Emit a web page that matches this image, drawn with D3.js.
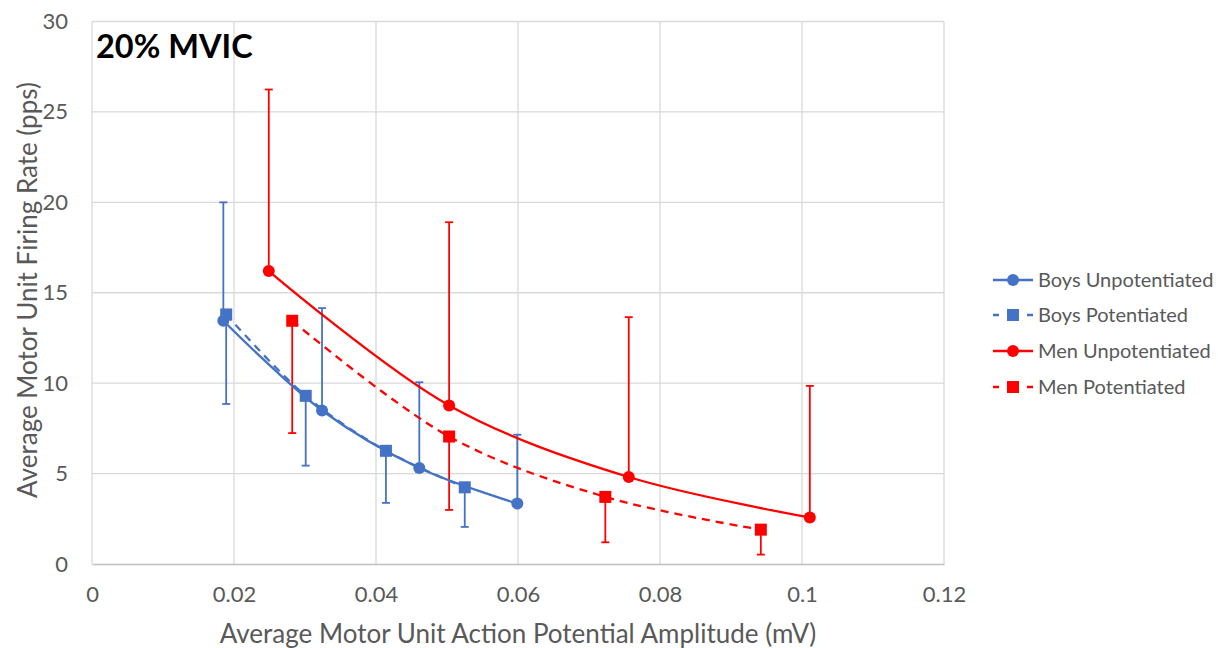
<!DOCTYPE html>
<html>
<head>
<meta charset="utf-8">
<script src="https://cdn.jsdelivr.net/npm/d3@7"></script>
<style>
  html, body { margin: 0; padding: 0; background: #ffffff; }
  svg { display: block; font-family: Lato, "Open Sans", "Liberation Sans", sans-serif; }
</style>
</head>
<body>
<svg id="chart" width="1218" height="648"></svg>
<script>
// Motor unit firing rate vs. action potential amplitude, 20% MVIC
const xTicks = [0, 0.02, 0.04, 0.06, 0.08, 0.1, 0.12];
const yTicks = [0, 5, 10, 15, 20, 25, 30];

const boysUnpotX   = [0.0185, 0.0324, 0.0461, 0.0599];
const boysUnpotY   = [13.45, 8.49, 5.31, 3.34];
const boysUnpotErr = [20.0, 14.15, 10.05, 7.15];   // upper bar ends

const boysPotX   = [0.0189, 0.0301, 0.0414, 0.0525];
const boysPotY   = [13.8, 9.3, 6.26, 4.24];
const boysPotErr = [8.85, 5.44, 3.38, 2.05];       // lower bar ends

const menUnpotX   = [0.0249, 0.0503, 0.0756, 0.1011];
const menUnpotY   = [16.2, 8.77, 4.81, 2.57];
const menUnpotErr = [26.24, 18.9, 13.65, 9.85];     // upper bar ends

const menPotX   = [0.0282, 0.0503, 0.0723, 0.0942];
const menPotY   = [13.45, 7.05, 3.71, 1.9];
const menPotErr = [7.24, 2.99, 1.2, 0.52];          // lower bar ends

const seriesNames = ["Boys Unpotentiated", "Boys Potentiated", "Men Unpotentiated", "Men Potentiated"];

const blue = "#4472c4", red = "#ff0000";
const series = [
  { name: seriesNames[0], xs: boysUnpotX, ys: boysUnpotY, err: boysUnpotErr, color: blue, dashed: false, marker: "circle" },
  { name: seriesNames[1], xs: boysPotX,   ys: boysPotY,   err: boysPotErr,   color: blue, dashed: true,  marker: "square" },
  { name: seriesNames[2], xs: menUnpotX,  ys: menUnpotY,  err: menUnpotErr,  color: red,  dashed: false, marker: "circle" },
  { name: seriesNames[3], xs: menPotX,    ys: menPotY,    err: menPotErr,    color: red,  dashed: true,  marker: "square" }
];

const svg = d3.select("#chart");
const plotL = 92, plotR = 944, plotT = 21.5, plotB = 564;

const x = d3.scaleLinear().domain([0, 0.12]).range([plotL, plotR]);
const y = d3.scaleLinear().domain([0, 30]).range([plotB, plotT]);

// gridlines
const grid = svg.append("g");
grid.selectAll("line.h").data(yTicks.filter(t => t > 0)).join("line")
  .attr("x1", plotL).attr("x2", plotR)
  .attr("y1", d => y(d)).attr("y2", d => y(d))
  .attr("stroke", "#d9d9d9").attr("stroke-width", 1.3);
grid.selectAll("line.v").data(xTicks.filter(t => t > 0)).join("line")
  .attr("x1", d => x(d)).attr("x2", d => x(d))
  .attr("y1", plotT).attr("y2", plotB)
  .attr("stroke", "#d9d9d9").attr("stroke-width", 1.3);
grid.append("line")
  .attr("x1", plotL).attr("x2", plotL).attr("y1", plotT).attr("y2", plotB)
  .attr("stroke", "#d9d9d9").attr("stroke-width", 1.3);

// axes
const xAxis = d3.axisBottom(x).tickValues(xTicks).tickSize(0).tickPadding(22)
  .tickFormat(d => d === 0 ? "0" : String(+d.toFixed(2)));
const gx = svg.append("g").attr("transform", `translate(0,${plotB})`).call(xAxis);
gx.attr("font-family", null).attr("font-size", null);
gx.select(".domain").attr("stroke", "#bfbfbf").attr("stroke-width", 1.3);
gx.selectAll("text").attr("fill", "#595959").attr("font-size", 22);

const yAxis = d3.axisLeft(y).tickValues(yTicks).tickSize(0).tickPadding(24);
const gy = svg.append("g").attr("transform", `translate(${plotL},0)`).call(yAxis);
gy.attr("font-family", null).attr("font-size", null);
gy.select(".domain").remove();
gy.selectAll("text").attr("fill", "#595959").attr("font-size", 22);

// axis titles
svg.append("text")
  .attr("x", 518).attr("y", 643)
  .attr("text-anchor", "middle").attr("fill", "#595959").attr("font-size", 26)
  .text("Average Motor Unit Action Potential Amplitude (mV)");
svg.append("text")
  .attr("transform", `translate(37,290) rotate(-90)`)
  .attr("text-anchor", "middle").attr("fill", "#595959").attr("font-size", 26)
  .text("Average Motor Unit Firing Rate (pps)");

// chart label
svg.append("text")
  .attr("x", 96).attr("y", 58)
  .attr("fill", "#000").attr("font-size", 32.5).attr("font-weight", "bold")
  .text("20% MVIC");

const line = d3.line().x(d => x(d[0])).y(d => y(d[1])).curve(d3.curveCatmullRom.alpha(0.5));

function drawMarker(g, type, cx, cy, color, size) {
  if (type === "circle") {
    g.append("circle").attr("cx", cx).attr("cy", cy).attr("r", size / 2).attr("fill", color);
  } else {
    g.append("rect").attr("x", cx - size / 2).attr("y", cy - size / 2)
      .attr("width", size).attr("height", size).attr("fill", color);
  }
}

// error bars
series.forEach(s => {
  const g = svg.append("g");
  s.xs.forEach((xv, i) => {
    const px = x(xv);
    g.append("line").attr("x1", px).attr("x2", px)
      .attr("y1", y(s.ys[i])).attr("y2", y(s.err[i]))
      .attr("stroke", s.color).attr("stroke-width", 1.8);
    g.append("line").attr("x1", px - 4).attr("x2", px + 4)
      .attr("y1", y(s.err[i])).attr("y2", y(s.err[i]))
      .attr("stroke", s.color).attr("stroke-width", 1.8);
  });
});

// lines and markers
series.forEach(s => {
  const g = svg.append("g");
  const pts = s.xs.map((xv, i) => [xv, s.ys[i]]);
  g.append("path").attr("d", line(pts))
    .attr("fill", "none").attr("stroke", s.color).attr("stroke-width", 2.3)
    .attr("stroke-dasharray", s.dashed ? "8,6" : null);
  pts.forEach(p => drawMarker(g, s.marker, x(p[0]), y(p[1]), s.color, 12));
});

// legend
const legend = svg.append("g");
const legendRows = [280, 315, 351, 387];
series.forEach((s, i) => {
  const ly = legendRows[i];
  legend.append("line").attr("x1", 993).attr("x2", 1033).attr("y1", ly).attr("y2", ly)
    .attr("stroke", s.color).attr("stroke-width", 2.3)
    .attr("stroke-dasharray", s.dashed ? "6,9.5,9,9.5,6" : null);
  drawMarker(legend, s.marker, 1013, ly, s.color, 12);
  legend.append("text").attr("x", 1038).attr("y", ly).attr("dy", "0.35em")
    .attr("fill", "#595959").attr("font-size", 20).text(s.name);
});
</script>
</body>
</html>
